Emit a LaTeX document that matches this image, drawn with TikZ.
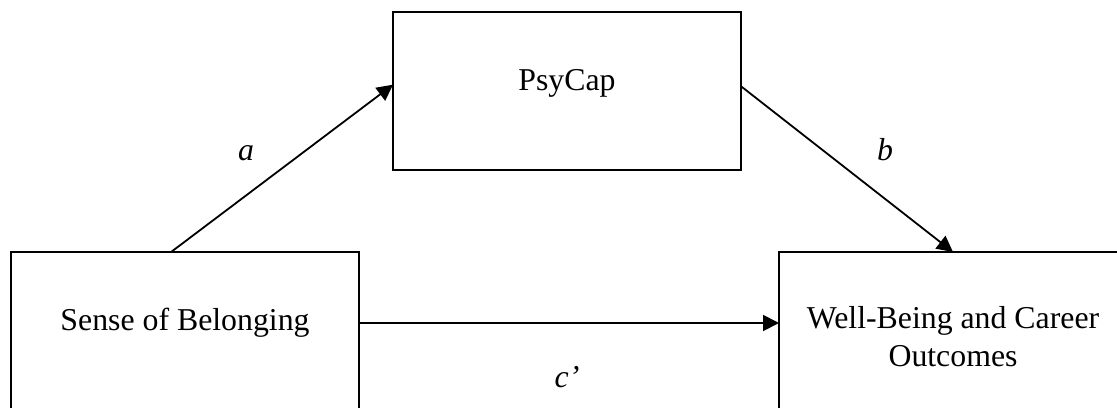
\documentclass[tikz,border=0pt]{standalone}
\usepackage{fontspec}
\setmainfont{Liberation Serif}
\usetikzlibrary{arrows.meta,calc}
\begin{document}
\begin{tikzpicture}[x=0.5pt,y=-0.5pt,
  box/.style={draw,line width=0.9pt,inner sep=0pt,outer sep=0pt,minimum width=174pt},
  txt/.style={font=\fontsize{15.9}{19}\selectfont,inner sep=0pt,align=center},
  lbl/.style={font=\fontsize{15.9}{19}\selectfont\itshape,inner sep=0pt,anchor=base},
  arr/.style={line width=0.9pt,-{Triangle[length=8pt,width=8pt]}}]
\useasboundingbox (0,0) rectangle (1117,407);
\clip (0,0) rectangle (1117,407);
\node[box,minimum height=79pt] (pc) at (567,91) {};
\node[box,minimum height=100pt] (lb) at (185,352) {};
\node[box,minimum height=100pt] (rb) at (953,352) {};
\node[txt,anchor=base] (pct) at (567,90) {PsyCap};
\node[txt,anchor=base] (lbt) at (185,330) {Sense of Belonging};
\node[txt] (rbt) at (953,337) {Well-Being and Career\\Outcomes};
\draw[arr] ($(lb.north west)!0.46!(lb.north east)$) -- ($(pc.north west)!0.46!(pc.south west)$);
\draw[arr] ($(pc.north east)!0.47!(pc.south east)$) -- (rb.north);
\coordinate (cs) at ($(lb.north east)+(0,71)$);
\draw[arr] (cs) -- (cs -| rb.west);
\node[lbl] (la) at (246,160) {a};
\node[lbl] (lbb) at (885,160) {b};
\node[lbl] (lc) at (567,387) {c’};
\end{tikzpicture}
\end{document}
